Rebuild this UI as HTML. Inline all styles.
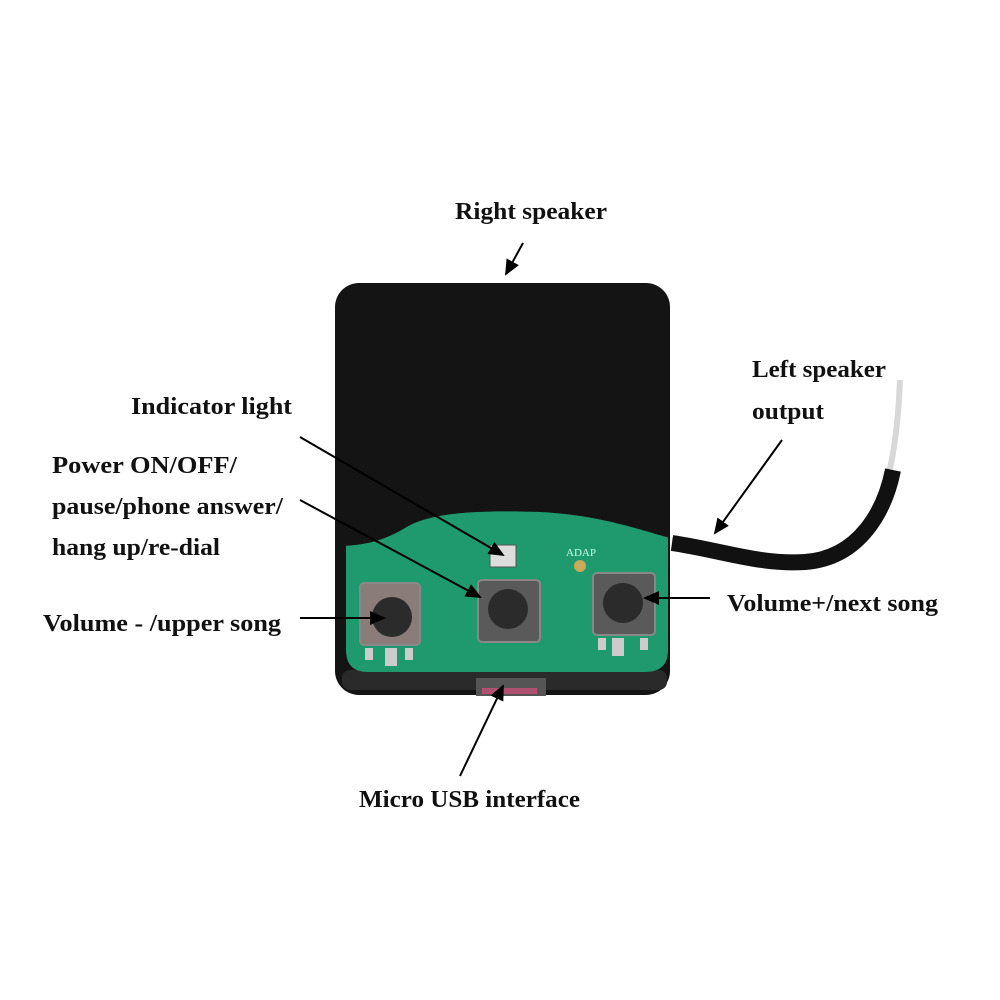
<!DOCTYPE html>
<html><head><style>
body{margin:0;background:#fff}
svg{display:block}
text{font-family:"Liberation Serif",serif;font-weight:bold;font-size:24px;fill:#111}
</style></head><body>
<svg width="1000" height="1000" viewBox="0 0 1000 1000">
<defs>
<marker id="a" markerWidth="16" markerHeight="14" refX="14" refY="7" orient="auto" markerUnits="userSpaceOnUse" viewBox="0 0 16 14"><path d="M0,0 L16,7 L0,14 z" fill="#000"/></marker>
</defs>
<rect width="1000" height="1000" fill="#fff"/>
<!-- cable -->
<path d="M672,540 C720,548 760,560 810,558 C870,555 895,500 900,380" fill="none" stroke="#d8d8d8" stroke-width="6"/>
<path d="M672,543 C720,550 760,565 805,562 C860,558 885,510 893,470" fill="none" stroke="#111" stroke-width="16"/>
<!-- case -->
<rect x="335" y="283" width="335" height="412" rx="24" fill="#141414"/>
<rect x="342" y="670" width="325" height="20" rx="8" fill="#2a2a2a"/>
<!-- green board -->
<path d="M346,505 L668,505 L668,650 Q668,672 645,672 L368,672 Q346,672 346,650 Z" fill="#1f9a6e"/>
<path d="M336,320 L670,320 L670,538 C640,530 600,515 540,512 C480,510 430,512 405,528 C385,540 365,546 336,546 Z" fill="#141414"/>
<!-- LED -->
<rect x="490" y="545" width="26" height="22" fill="#ddd" stroke="#555"/>
<circle cx="580" cy="566" r="6" fill="#c9a95a"/>
<text x="566" y="556" style="font-size:11px;font-weight:normal;fill:#cfe">ADAP</text>
<!-- buttons -->
<g fill="#5a5a5a" stroke="#888" stroke-width="2">
<rect x="360" y="583" width="60" height="62" rx="4" fill="#8a7c78"/>
<rect x="478" y="580" width="62" height="62" rx="4"/>
<rect x="593" y="573" width="62" height="62" rx="4"/>
</g>
<circle cx="392" cy="617" r="20" fill="#2b2b2b"/>
<circle cx="508" cy="609" r="20" fill="#2b2b2b"/>
<circle cx="623" cy="603" r="20" fill="#2b2b2b"/>
<g fill="#ccc"><rect x="385" y="648" width="12" height="18"/><rect x="365" y="648" width="8" height="12"/><rect x="405" y="648" width="8" height="12"/>
<rect x="612" y="638" width="12" height="18"/><rect x="598" y="638" width="8" height="12"/><rect x="640" y="638" width="8" height="12"/></g>
<!-- usb -->
<rect x="476" y="678" width="70" height="18" fill="#555"/>
<rect x="482" y="688" width="55" height="6" fill="#b05070"/>
<!-- labels -->
<g lengthAdjust="spacingAndGlyphs">
<text x="455" y="219" textLength="152" lengthAdjust="spacingAndGlyphs">Right speaker</text>
<text x="752" y="377" textLength="134" lengthAdjust="spacingAndGlyphs">Left speaker</text>
<text x="752" y="419" textLength="72" lengthAdjust="spacingAndGlyphs">output</text>
<text x="131" y="414" textLength="161" lengthAdjust="spacingAndGlyphs">Indicator light</text>
<text x="52" y="473" textLength="185" lengthAdjust="spacingAndGlyphs">Power ON/OFF/</text>
<text x="52" y="514" textLength="231" lengthAdjust="spacingAndGlyphs">pause/phone answer/</text>
<text x="52" y="555" textLength="168" lengthAdjust="spacingAndGlyphs">hang up/re-dial</text>
<text x="43" y="631" textLength="238" lengthAdjust="spacingAndGlyphs">Volume - /upper song</text>
<text x="727" y="611" textLength="211" lengthAdjust="spacingAndGlyphs">Volume+/next song</text>
<text x="359" y="807" textLength="221" lengthAdjust="spacingAndGlyphs">Micro USB interface</text>
</g>
<!-- arrows -->
<g stroke="#000" stroke-width="2" fill="none" marker-end="url(#a)">
<line x1="523" y1="243" x2="506" y2="274"/>
<line x1="782" y1="440" x2="715" y2="533"/>
<line x1="300" y1="437" x2="503" y2="555"/>
<line x1="300" y1="500" x2="480" y2="597"/>
<line x1="300" y1="618" x2="384" y2="618"/>
<line x1="710" y1="598" x2="645" y2="598"/>
<line x1="460" y1="776" x2="503" y2="686"/>
</g>
</svg>
</body></html>
